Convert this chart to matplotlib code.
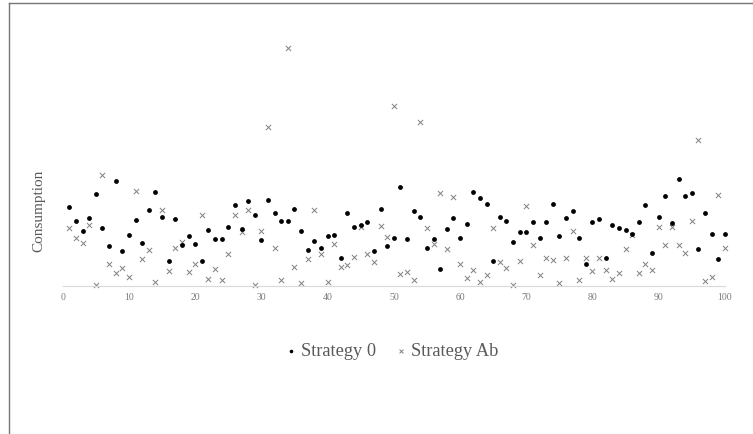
import numpy as np
import matplotlib
matplotlib.use('Agg')
import matplotlib.pyplot as plt
from matplotlib.lines import Line2D

plt.rcParams['font.family'] = ['Liberation Serif', 'DejaVu Serif']

# 数据
periods = list(range(1, 101))
strategy_0 = [7.9, 6.5, 5.5, 6.8, 9.2, 5.8, 4.0, 10.5, 3.5, 5.1,
              6.6, 4.3, 7.6, 9.4, 6.9, 2.5, 6.7, 4.1, 5.0, 4.2,
              2.5, 5.6, 4.7, 4.7, 5.9, 8.1, 5.7, 8.5, 7.1, 4.6,
              8.6, 7.3, 6.5, 6.5, 7.7, 5.5, 3.6, 4.5, 3.8, 5.0,
              5.1, 2.8, 7.3, 5.9, 6.1, 6.4, 3.5, 7.7, 4.0, 4.8,
              9.9, 4.7, 7.5, 6.9, 3.8, 4.7, 1.7, 5.7, 6.8, 4.8,
              6.2, 9.4, 8.8, 8.2, 2.5, 6.9, 6.5, 4.4, 5.4, 5.4,
              6.4, 4.8, 6.4, 8.2, 5.0, 6.8, 7.5, 4.8, 2.2, 6.4,
              6.7, 2.8, 6.1, 5.8, 5.6, 5.2, 6.4, 8.1, 3.3, 6.9,
              9.0, 6.3, 10.7, 9.0, 9.3, 3.7, 7.3, 5.2, 2.7, 5.2]
strategy_ab = [5.8, 4.8, 4.3, 6.1, 0.1, 11.1, 2.2, 1.3, 1.8, 0.9,
               9.5, 2.7, 3.6, 0.4, 7.6, 1.5, 3.8, 4.4, 1.4, 2.2,
               7.1, 0.7, 1.7, 0.6, 3.2, 7.1, 5.4, 7.6, 0.1, 5.5,
               15.9, 3.8, 0.6, 23.8, 1.9, 0.3, 2.7, 7.6, 3.2, 0.4,
               4.2, 1.9, 2.1, 2.9, 5.9, 3.2, 2.4, 6.0, 4.9, 18.0,
               1.2, 1.4, 0.6, 16.4, 5.8, 4.2, 9.3, 3.7, 8.9, 2.2,
               0.8, 1.6, 0.4, 1.1, 5.8, 2.4, 1.8, 0.1, 2.5, 8.0,
               4.1, 1.1, 2.8, 2.6, 0.3, 2.8, 5.5, 0.6, 2.8, 1.5,
               2.8, 1.6, 0.7, 1.3, 3.7, 5.1, 1.3, 2.2, 1.6, 5.9,
               4.1, 5.9, 4.1, 3.3, 6.5, 14.6, 0.5, 0.9, 9.1, 3.8]
x_ticks = [0, 10, 20, 30, 40, 50, 60, 70, 80, 90, 100]

grey = '#595959'

fig = plt.figure(figsize=(7.53, 4.35), dpi=100)
ax = fig.add_axes([0.0833, 0.3402, 0.8794, 0.5977])

ax.scatter(periods, strategy_0, s=12, color='black', marker='o',
           linewidths=0, label='Strategy 0', zorder=3, clip_on=False)
ax.scatter(periods, strategy_ab, s=14, color='#808080', marker='x',
           linewidths=0.7, label='Strategy Ab', zorder=2, clip_on=False)

ax.set_xlim(0, 100)
ax.set_ylim(0, 26)
ax.set_xticks(x_ticks)
ax.tick_params(axis='x', length=0, pad=4, labelsize=7, labelcolor='#7a7a7a')
ax.set_yticks([])
for s in ['left', 'right', 'top']:
    ax.spines[s].set_visible(False)
ax.spines['bottom'].set_color('#d9d9d9')
ax.spines['bottom'].set_linewidth(0.8)

fig.text(0.051, 0.515, 'Consumption', rotation=90, ha='center', va='center',
         fontsize=11, color=grey)

fig.legend(loc='center', bbox_to_anchor=(0.521, 0.191), ncol=2, frameon=False,
           fontsize=13.2, labelcolor=grey, handlelength=0.5, handletextpad=0.3,
           columnspacing=1.1, markerscale=0.75)

# 外框（左边和上边）
fig.add_artist(Line2D([8.5 / 753, 8.5 / 753], [0, 1 - 4 / 435],
                      transform=fig.transFigure, color='#767676', lw=1.0))
fig.add_artist(Line2D([8.5 / 753, 1], [1 - 4 / 435, 1 - 4 / 435],
                      transform=fig.transFigure, color='#767676', lw=1.0))

plt.savefig('out.png', dpi=100)
